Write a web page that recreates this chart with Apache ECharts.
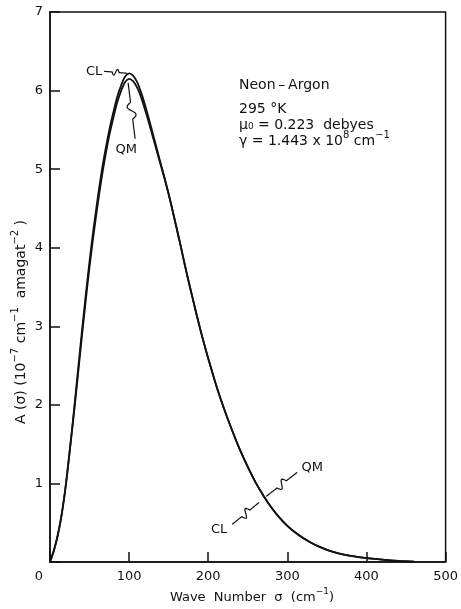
<!DOCTYPE html>
<html>
<head>
<meta charset="utf-8">
<script src="https://cdn.jsdelivr.net/npm/echarts@6/dist/echarts.min.js"></script>
<style>
  html, body { margin: 0; padding: 0; background: #fff; }
  #chart { width: 461px; height: 609px; }
</style>
</head>
<body>
<div id="chart"></div>
<script>
// Wave number grid (cm^-1)
const sigma = [0, 5, 10, 15, 20, 25, 30, 35, 40, 45, 50, 55, 60, 65, 70, 75, 80, 85, 90, 95,
  100, 105, 110, 115, 120, 125, 130, 135, 140, 145, 150, 155, 160, 165, 170, 175, 180, 185, 190, 195,
  200, 210, 220, 230, 240, 250, 260, 270, 280, 290, 300, 310, 320, 330, 340, 350, 360, 370, 380, 390,
  400, 420, 440, 460];

// Classical line shape A(sigma), 10^-7 cm^-1 amagat^-2
const clValues = [0, 0.15, 0.35, 0.62, 0.98, 1.42, 1.9, 2.4, 2.9, 3.38, 3.83, 4.24, 4.61, 4.95, 5.24, 5.5, 5.72, 5.92, 6.07, 6.18,
  6.22, 6.19, 6.11, 5.98, 5.82, 5.64, 5.45, 5.26, 5.07, 4.88, 4.68, 4.47, 4.25, 4.03, 3.8, 3.58, 3.37, 3.16, 2.96, 2.77,
  2.59, 2.25, 1.95, 1.68, 1.43, 1.21, 1.01, 0.84, 0.69, 0.565, 0.46, 0.375, 0.305, 0.245, 0.195, 0.155, 0.123, 0.098, 0.078, 0.062,
  0.049, 0.029, 0.014, 0.004];

// Quantum-mechanical line shape
const qmValues = [0, 0.15, 0.35, 0.62, 0.98, 1.42, 1.87, 2.35, 2.84, 3.31, 3.76, 4.16, 4.53, 4.87, 5.17, 5.43, 5.65, 5.85, 6.0, 6.11,
  6.15, 6.12, 6.04, 5.92, 5.76, 5.59, 5.41, 5.23, 5.05, 4.87, 4.68, 4.47, 4.25, 4.03, 3.8, 3.58, 3.37, 3.16, 2.96, 2.77,
  2.59, 2.25, 1.95, 1.68, 1.43, 1.21, 1.01, 0.84, 0.69, 0.565, 0.46, 0.375, 0.305, 0.245, 0.195, 0.155, 0.123, 0.098, 0.078, 0.062,
  0.049, 0.029, 0.014, 0.004];

const xTicks = [0, 100, 200, 300, 400, 500];
const yTicks = [0, 1, 2, 3, 4, 5, 6, 7];

// Rich-text strings: {b|...} is body text, {s|...} is a raised superscript
const infoLines = [
  '{b|Neon\u2009\u2013\u2009Argon}',
  '{b|295 \u00B0K}',
  '{b|\u03BC\u2080 = 0.223  debyes}',
  '{b|\u03B3 = 1.443 x 10}{s|8}{b| cm}{s|\u22121}'
];
const xName = '{b|Wave  Number  \u03C3  (cm}{s|\u22121}{b|)}';
const yName = '{b|A (\u03C3) (10}{s|\u22127}{b| cm}{s|\u22121}{b|  amagat}{s|\u22122}{b| )}';

const INK = '#111';
const FONT = 'DejaVu Sans';

const pairs = (ys) => sigma.map((s, i) => [s, ys[i]]);

const chart = echarts.init(document.getElementById('chart'), null, { renderer: 'canvas' });

chart.setOption({
  animation: false,
  backgroundColor: '#fff',
  grid: {
    left: 50, right: 9, top: 12, bottom: 47,
    show: true, borderColor: INK, borderWidth: 1.5, backgroundColor: 'transparent'
  },
  xAxis: {
    type: 'value',
    min: xTicks[0], max: xTicks[xTicks.length - 1], interval: 100,
    splitLine: { show: false },
    axisLine: { lineStyle: { color: INK, width: 1.5 } },
    axisTick: { inside: true, length: 10, lineStyle: { color: INK, width: 1.5 } },
    axisLabel: {
      margin: 8, color: INK, fontFamily: FONT, fontSize: 13,
      formatter: (v) => v === 0 ? '{z|0}' : String(v),
      rich: { z: { padding: [0, 22, 0, 0], fontFamily: FONT, fontSize: 13, color: INK } }
    }
  },
  yAxis: {
    type: 'value',
    min: yTicks[0], max: yTicks[yTicks.length - 1], interval: 1,
    splitLine: { show: false },
    axisLine: { lineStyle: { color: INK, width: 1.5 } },
    axisTick: { inside: true, length: 10, lineStyle: { color: INK, width: 1.5 } },
    axisLabel: {
      margin: 7, color: INK, fontFamily: FONT, fontSize: 13,
      formatter: (v) => v === 0 ? '' : String(v)
    }
  },
  series: [
    {
      name: 'CL', type: 'line', data: pairs(clValues), smooth: 0.3,
      symbol: 'none', lineStyle: { color: INK, width: 1.8 }, z: 3
    },
    {
      name: 'QM', type: 'line', data: pairs(qmValues), smooth: 0.3,
      symbol: 'none', lineStyle: { color: INK, width: 1.8 }, z: 3
    }
  ]
});

// Wavy leader line from p0 to p1: straight ends with an S-kink in the middle
function squiggle(p0, p1, amp) {
  const dx = p1[0] - p0[0], dy = p1[1] - p0[1];
  const len = Math.hypot(dx, dy) || 1;
  const nx = -dy / len, ny = dx / len;
  const pts = [];
  const N = 40;
  for (let i = 0; i <= N; i++) {
    const t = i / N;
    let w = 0;
    if (t > 0.35 && t < 0.65) w = Math.sin(2 * Math.PI * (t - 0.35) / 0.3) * amp;
    pts.push([p0[0] + dx * t + nx * w, p0[1] + dy * t + ny * w]);
  }
  return pts;
}

function px(s, a) { return chart.convertToPixel({ gridIndex: 0 }, [s, a]); }

function richStyle(size) {
  return {
    b: { fontFamily: FONT, fontSize: size, lineHeight: size + 8, color: INK },
    s: { fontFamily: FONT, fontSize: Math.round(size * 0.68), lineHeight: Math.round(size * 0.68), verticalAlign: 'top', color: INK }
  };
}

function label(text, pos) {
  return {
    type: 'text', x: pos[0], y: pos[1], z: 10,
    style: { text: text, fill: INK, font: '13px "' + FONT + '"', textAlign: 'center', textVerticalAlign: 'middle' }
  };
}
function leader(p0, p1, amp) {
  return {
    type: 'polyline', z: 10,
    shape: { points: squiggle(p0, p1, amp) },
    style: { fill: null, stroke: INK, lineWidth: 1.2 }
  };
}

// Curve annotations, anchored on the curves
const clPeak = px(100, 6.22);
const qmPeak = px(100, 6.15);
const tail = px(272, 0.81);

const graphics = [
  label('CL', [clPeak[0] - 35, clPeak[1] - 2]),
  leader([clPeak[0] - 25, clPeak[1] - 2], [clPeak[0] - 2, clPeak[1]], 3),
  label('QM', [qmPeak[0] - 3, qmPeak[1] + 71]),
  leader([qmPeak[0] - 1, qmPeak[1] + 4], [qmPeak[0] + 6, qmPeak[1] + 60], 4),
  label('QM', [tail[0] + 47, tail[1] - 31]),
  leader([tail[0] + 1, tail[1] - 2], [tail[0] + 32, tail[1] - 26], 4),
  label('CL', [tail[0] - 46, tail[1] + 31]),
  leader([tail[0] - 33, tail[1] + 26], [tail[0] - 6, tail[1] + 4], 4)
];

// Information block
const infoY = [85, 109, 125, 141];
infoLines.forEach((t, i) => {
  graphics.push({
    type: 'text', x: 239, y: infoY[i], z: 10,
    style: { text: t, rich: richStyle(14), fill: INK, textAlign: 'left', textVerticalAlign: 'middle' }
  });
});

// Axis titles
graphics.push({
  type: 'text', x: 252, y: 598, z: 10,
  style: { text: xName, rich: richStyle(13), fill: INK, textAlign: 'center', textVerticalAlign: 'middle' }
});
graphics.push({
  type: 'text', x: 21, y: 322, rotation: Math.PI / 2, z: 10,
  style: { text: yName, rich: richStyle(14), fill: INK, textAlign: 'center', textVerticalAlign: 'middle' }
});

chart.setOption({ graphic: graphics });
</script>
</body>
</html>
